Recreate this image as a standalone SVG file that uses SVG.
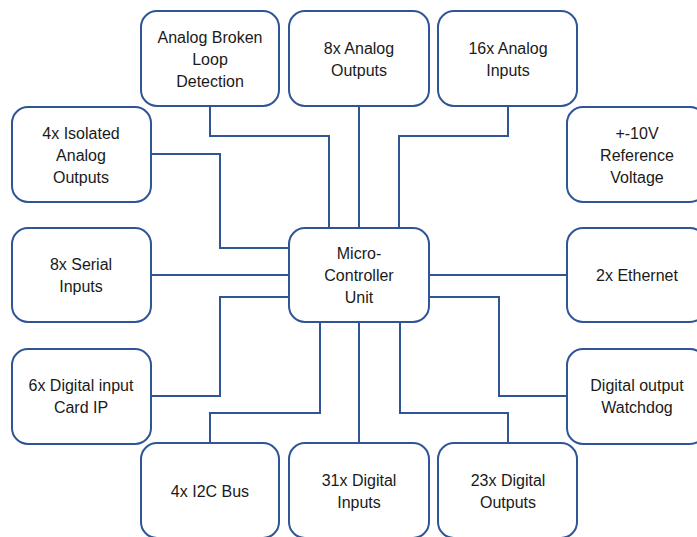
<svg xmlns="http://www.w3.org/2000/svg" width="697" height="537" viewBox="0 0 697 537">
<style>
.b{fill:#fff;stroke:#2F5597;stroke-width:2}
.c{fill:none;stroke:#2F5597;stroke-width:2}
text{font-family:"Liberation Sans",Arial,sans-serif;font-size:16px;fill:#1a1a1a;text-anchor:middle}
</style>
<rect width="697" height="537" fill="#fff"/>
<g id="connectors">
<polyline class="c" points="210,106 210,136 329,136 329,228"/>
<polyline class="c" points="359,106 359,228"/>
<polyline class="c" points="508,106 508,136 399,136 399,228"/>
<polyline class="c" points="151,154 220,154 220,248 289,248"/>
<polyline class="c" points="151,275 289,275"/>
<polyline class="c" points="151,396 220,396 220,297 289,297"/>
<polyline class="c" points="210,443 210,413 320,413 320,322"/>
<polyline class="c" points="359,322 359,443"/>
<polyline class="c" points="508,443 508,413 400,413 400,322"/>
<polyline class="c" points="567,396 499,396 499,297 429,297"/>
<polyline class="c" points="429,275 567,275"/>
</g>
<g id="n_broken"><rect class="b" x="141" y="11" width="138" height="95" rx="16"/><text x="210" y="43">Analog Broken</text><text x="210" y="65">Loop</text><text x="210" y="87">Detection</text></g>
<g id="n_aout"><rect class="b" x="289" y="11" width="140" height="95" rx="16"/><text x="359" y="54">8x Analog</text><text x="359" y="76">Outputs</text></g>
<g id="n_ain"><rect class="b" x="438" y="11" width="139" height="95" rx="16"/><text x="508" y="54">16x Analog</text><text x="508" y="76">Inputs</text></g>
<g id="n_iso"><rect class="b" x="12" y="107" width="139" height="95" rx="16"/><text x="81" y="139">4x Isolated</text><text x="81" y="161">Analog</text><text x="81" y="183">Outputs</text></g>
<g id="n_ref"><rect class="b" x="567" y="107" width="139" height="95" rx="16"/><text x="637" y="139">+-10V</text><text x="637" y="161">Reference</text><text x="637" y="183">Voltage</text></g>
<g id="n_serial"><rect class="b" x="12" y="228" width="139" height="94" rx="16"/><text x="81" y="270">8x Serial</text><text x="81" y="292">Inputs</text></g>
<g id="n_mcu"><rect class="b" x="289" y="228" width="140" height="94" rx="16"/><text x="359" y="259">Micro-</text><text x="359" y="281">Controller</text><text x="359" y="303">Unit</text></g>
<g id="n_eth"><rect class="b" x="567" y="228" width="139" height="94" rx="16"/><text x="637" y="281">2x Ethernet</text></g>
<g id="n_dicard"><rect class="b" x="12" y="349" width="139" height="95" rx="16"/><text x="81" y="391">6x Digital input</text><text x="81" y="413">Card IP</text></g>
<g id="n_wd"><rect class="b" x="567" y="349" width="139" height="95" rx="16"/><text x="637" y="391">Digital output</text><text x="637" y="413">Watchdog</text></g>
<g id="n_i2c"><rect class="b" x="141" y="443" width="138" height="95" rx="16"/><text x="210" y="497">4x I2C Bus</text></g>
<g id="n_din"><rect class="b" x="289" y="443" width="140" height="95" rx="16"/><text x="359" y="486">31x Digital</text><text x="359" y="508">Inputs</text></g>
<g id="n_dout"><rect class="b" x="438" y="443" width="139" height="95" rx="16"/><text x="508" y="486">23x Digital</text><text x="508" y="508">Outputs</text></g>
</svg>
